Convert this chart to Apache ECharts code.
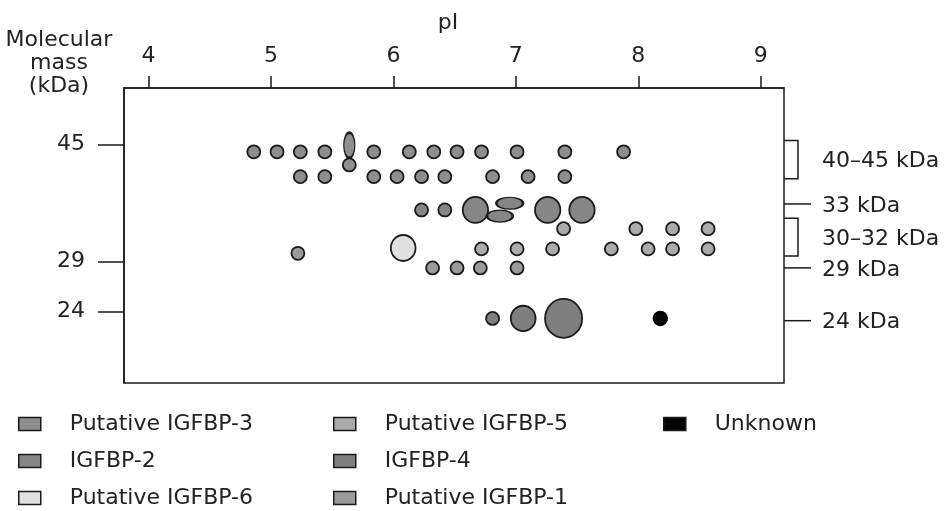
<!DOCTYPE html>
<html><head><meta charset="utf-8">
<script src="https://cdn.jsdelivr.net/npm/echarts@6/dist/echarts.min.js"></script>
<style>html,body{margin:0;padding:0;background:#fff}#c{width:952px;height:511px}</style>
</head><body><div id="c"></div>
<script>
// Axis ticks
const pITicks = [4, 5, 6, 7, 8, 9];
const massTicks = [24, 29, 45];

// Spots: [pI, molecular mass (kDa), relative spot width, relative spot height] (1 = typical spot)
const putativeIGFBP3 = [
  [4.86, 43.8, 1, 1], [5.05, 43.8, 1, 1], [5.24, 43.8, 1, 1], [5.44, 43.8, 1, 1],
  [5.64, 44.9, 0.85, 1.95], [5.64, 41.7, 1, 1],
  [5.84, 43.8, 1, 1], [6.13, 43.8, 1, 1], [6.33, 43.8, 1, 1], [6.52, 43.8, 1, 1],
  [6.72, 43.8, 1, 1], [7.01, 43.8, 1, 1], [7.40, 43.8, 1, 1], [7.88, 43.8, 1, 1],
  [5.24, 39.9, 1, 1], [5.44, 39.9, 1, 1], [5.84, 39.9, 1, 1], [6.03, 39.9, 1, 1],
  [6.23, 39.9, 1, 1], [6.42, 39.9, 1, 1], [6.81, 39.9, 1, 1], [7.10, 39.9, 1, 1],
  [7.40, 39.9, 1, 1]
];
const igfbp2 = [
  [6.23, 35.2, 1, 1], [6.42, 35.2, 1, 1], [6.67, 35.2, 1.95, 2.0],
  [6.95, 36.1, 2.05, 0.92], [6.87, 34.4, 2.0, 0.92],
  [7.26, 35.2, 1.95, 2.0], [7.54, 35.2, 1.95, 2.0]
];
const putativeIGFBP6 = [[6.08, 30.5, 1.9, 2.0]];
const putativeIGFBP5 = [
  [7.39, 32.8, 1, 1], [7.98, 32.8, 1, 1], [8.28, 32.8, 1, 1], [8.57, 32.8, 1, 1],
  [6.72, 30.4, 1, 1], [7.01, 30.4, 1, 1], [7.30, 30.4, 1, 1], [7.78, 30.4, 1, 1],
  [8.08, 30.4, 1, 1], [8.28, 30.4, 1, 1], [8.57, 30.4, 1, 1]
];
const igfbp4 = [[6.81, 23.4, 1, 1], [7.06, 23.4, 1.9, 1.95], [7.39, 23.4, 2.85, 3.0]];
const putativeIGFBP1 = [
  [5.22, 29.9, 1, 1], [6.32, 28.3, 1, 1], [6.52, 28.3, 1, 1], [6.71, 28.3, 1, 1], [7.01, 28.3, 1, 1]
];
const unknown = [[8.18, 23.4, 1.05, 1.05]];

// Right-hand molecular mass markers (positions on the mass axis)
const markerLabels = ['40–45 kDa', '33 kDa', '30–32 kDa', '29 kDa', '24 kDa'];
const markerHigh = [45.7, 36.0, 34.1, 28.3, 23.2];
const markerLow  = [39.6, 36.0, 29.6, 28.3, 23.2];

const FONT = 'DejaVu Sans';
const INK = '#1a1a1a';
const TXT = '#222';
const SPOT_PX = 13;
const ELLIPSE = 'path://M1,0 C1.5523,0 2,0.4477 2,1 C2,1.5523 1.5523,2 1,2 C0.4477,2 0,1.5523 0,1 C0,0.4477 0.4477,0 1,0 Z';
const X_MIN = 3.8, X_MAX = 9.19;

function spotSeries(name, data, color, border) {
  return {
    type: 'scatter', name, data,
    symbol: ELLIPSE,
    symbolSize: v => [v[2] * SPOT_PX, v[3] * SPOT_PX],
    itemStyle: { color, borderColor: border || INK, borderWidth: 1.8, opacity: 1 },
    emphasis: { disabled: true }
  };
}

const legendBase = {
  orient: 'vertical', itemWidth: 22, itemHeight: 13, itemGap: 15, icon: 'rect',
  selectedMode: false, padding: 0, height: 130, top: 413,
  itemStyle: { borderColor: INK, borderWidth: 1.5 },
  textStyle: { fontFamily: FONT, fontSize: 22, color: TXT, padding: [0, 0, 0, 24] }
};

const chart = echarts.init(document.getElementById('c'), null, { renderer: 'canvas' });
chart.setOption({
  animation: false,
  backgroundColor: '#fff',
  graphic: [{
    type: 'text', x: 59, y: 29,
    style: { text: 'Molecular\nmass\n(kDa)', align: 'center', verticalAlign: 'top',
      font: '22px "' + FONT + '"', lineHeight: 23, fill: TXT }
  }],
  grid: { left: 124, top: 88, width: 660, height: 295, show: true, borderColor: INK, borderWidth: 1.5, backgroundColor: 'transparent' },
  legend: [
    Object.assign({}, legendBase, { data: ['Putative IGFBP-3', 'IGFBP-2', 'Putative IGFBP-6'], left: 18 }),
    Object.assign({}, legendBase, { data: ['Putative IGFBP-5', 'IGFBP-4', 'Putative IGFBP-1'], left: 333 }),
    Object.assign({}, legendBase, { data: ['Unknown'], left: 663 })
  ],
  xAxis: {
    type: 'value', position: 'top', min: X_MIN, max: X_MAX,
    name: 'pI', nameLocation: 'middle', nameGap: 54,
    nameTextStyle: { fontFamily: FONT, fontSize: 22, color: TXT, padding: [0, 12, 0, 0] },
    axisLine: { show: true, lineStyle: { color: INK, width: 1.5 } },
    axisTick: { show: true, inside: false, length: 12, customValues: pITicks, lineStyle: { color: INK, width: 1.5 } },
    axisLabel: { show: true, customValues: pITicks, margin: 21, fontFamily: FONT, fontSize: 22, color: TXT },
    splitLine: { show: false }, minorTick: { show: false }
  },
  yAxis: {
    type: 'log', logBase: 10, min: 18.35, max: 55.7,
    axisLine: { show: true, lineStyle: { color: INK, width: 1.5 } },
    axisTick: { show: true, inside: false, length: 26, customValues: massTicks, lineStyle: { color: INK, width: 1.5 } },
    axisLabel: { show: true, customValues: massTicks, margin: 39, fontFamily: FONT, fontSize: 22, color: TXT, padding: [5, 0, 0, 0] },
    splitLine: { show: false }, minorTick: { show: false }, minorSplitLine: { show: false }
  },
  series: [
    spotSeries('Putative IGFBP-3', putativeIGFBP3, '#8e8e8e'),
    spotSeries('IGFBP-2', igfbp2, '#868686'),
    spotSeries('Putative IGFBP-6', putativeIGFBP6, '#e0e0e0'),
    spotSeries('Putative IGFBP-5', putativeIGFBP5, '#ababab'),
    spotSeries('IGFBP-4', igfbp4, '#7f7f7f'),
    spotSeries('Putative IGFBP-1', putativeIGFBP1, '#9b9b9b'),
    spotSeries('Unknown', unknown, '#050505', '#000'),
    {
      type: 'custom', name: 'markers', clip: false, silent: true,
      data: markerLabels.map((l, i) => [X_MAX, markerHigh[i], markerLow[i]]),
      renderItem(params, api) {
        const cs = params.coordSys;
        const x0 = cs.x + cs.width;
        const y1 = api.coord([api.value(0), api.value(1)])[1];
        const y2 = api.coord([api.value(0), api.value(2)])[1];
        const children = [];
        if (Math.abs(y2 - y1) > 1) {
          children.push({ type: 'polyline', shape: { points: [[x0, y1], [x0 + 14, y1], [x0 + 14, y2], [x0, y2]] },
            style: { stroke: INK, lineWidth: 1.5, fill: null } });
        } else {
          children.push({ type: 'line', shape: { x1: x0, y1: y1, x2: x0 + 27, y2: y1 },
            style: { stroke: INK, lineWidth: 1.5 } });
        }
        children.push({ type: 'text', x: x0 + 38, y: (y1 + y2) / 2 + 2,
          style: { text: markerLabels[params.dataIndex], font: '22px "' + FONT + '"', fill: TXT, align: 'left', verticalAlign: 'middle' } });
        return { type: 'group', children };
      }
    }
  ]
});
</script></body></html>
